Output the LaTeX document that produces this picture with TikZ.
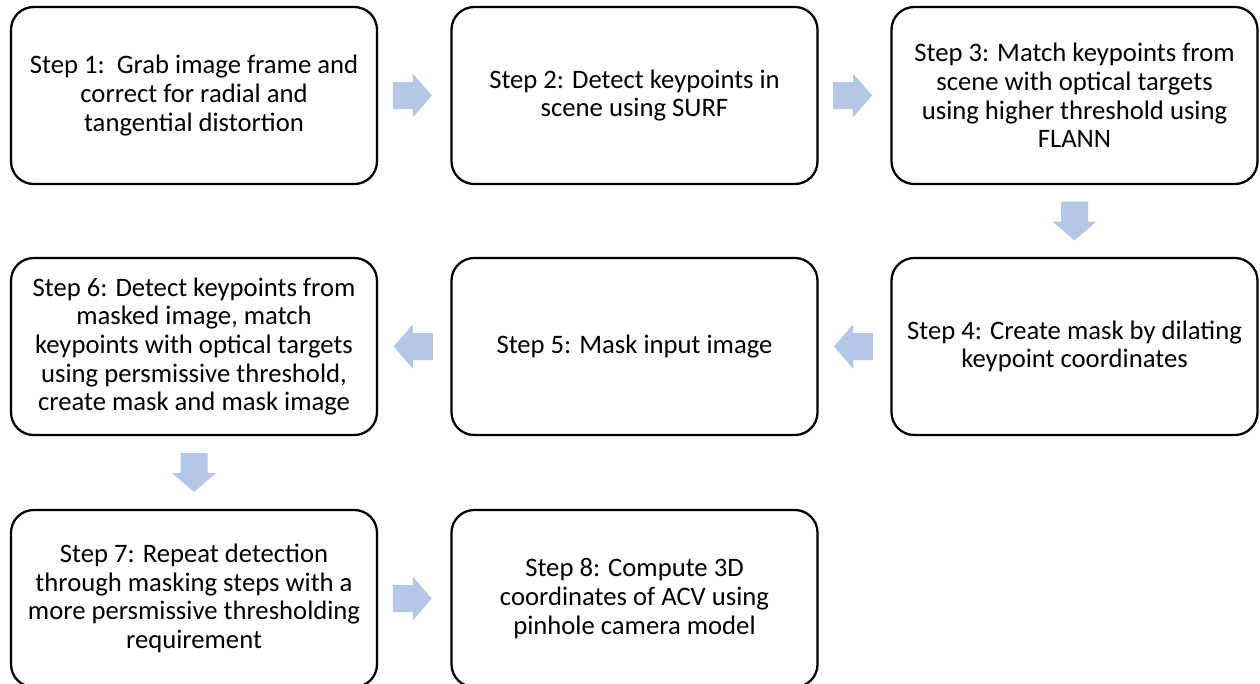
\documentclass[tikz,border=0pt]{standalone}
\usepackage{fontspec}
\setmainfont{Carlito}
\usetikzlibrary{calc}
\definecolor{arrowblue}{RGB}{180,199,231}
\tikzset{
  stepbox/.style={draw=black, line width=1.7pt, rounded corners=17pt,
    minimum width=274.5pt, minimum height=132.75pt, inner sep=0pt,
    align=center, font=\fontsize{20}{21.4}\selectfont},
  blockR/.pic={\fill[arrowblue] (-19.5,-13.5) -- (0.5,-13.5) -- (0.5,-22) -- (19.5,0)
      -- (0.5,22) -- (0.5,13.5) -- (-19.5,13.5) -- cycle;}
}
\begin{document}
\begin{tikzpicture}[x=0.75pt,y=0.75pt]
\useasboundingbox (0,0) rectangle (1260,-683);
\clip (0,0) rectangle (1260,-683);
\node[stepbox] (s1) at (194,-95.5) {Step 1:\ \ Grab image frame and\\correct for radial and\\tangential distortion};
\node[stepbox] (s2) at (634.5,-95.5) {Step 2: Detect keypoints in\\scene using SURF};
\node[stepbox] (s3) at (1074.5,-95.5) {Step 3: Match keypoints from\\scene with optical targets\\using higher threshold using\\FLANN};
\node[stepbox] (s4) at (1074.5,-346.5) {Step 4: Create mask by dilating\\keypoint coordinates};
\node[stepbox] (s5) at (634.5,-346.5) {Step 5: Mask input image};
\node[stepbox] (s6) at (194,-346.5) {Step 6: Detect keypoints from\\masked image, match\\keypoints with optical targets\\using persmissive threshold,\\create mask and mask image};
\node[stepbox] (s7) at (194,-598.5) {Step 7: Repeat detection\\through masking steps with a\\more persmissive thresholding\\requirement};
\node[stepbox] (s8) at (634.5,-598.5) {Step 8: Compute 3D\\coordinates of ACV using\\pinhole camera model};
\pic at ($(s1.east)!0.5!(s2.west)+(-2,0)$) {blockR};
\pic at ($(s2.east)!0.5!(s3.west)+(-2,0)$) {blockR};
\pic[rotate=-90] at ($(s3.south)!0.5!(s4.north)$) {blockR};
\pic[rotate=180] at ($(s4.west)!0.5!(s5.east)+(-1,0)$) {blockR};
\pic[rotate=180] at ($(s5.west)!0.5!(s6.east)+(-1,0)$) {blockR};
\pic[rotate=-90] at ($(s6.south)!0.5!(s7.north)$) {blockR};
\pic at ($(s7.east)!0.5!(s8.west)+(-2,0)$) {blockR};
\end{tikzpicture}
\end{document}
